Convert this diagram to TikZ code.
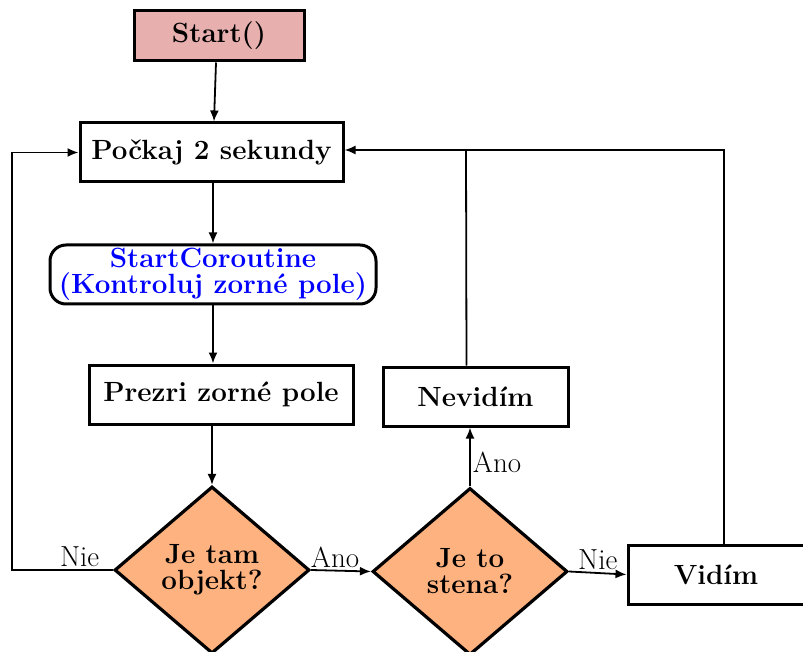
\documentclass[tikz,border=0pt]{standalone}
\usepackage{fontspec}
\usetikzlibrary{shapes.geometric,arrows.meta,positioning,calc}
\definecolor{startpink}{RGB}{232,175,175}
\definecolor{decorange}{RGB}{253,178,127}
\definecolor{coblue}{RGB}{0,0,255}
\begin{document}
\begin{tikzpicture}[x=1pt,y=-1pt,
  boxnode/.style={draw=black,line width=3pt,rectangle,inner sep=0pt,
    font=\fontsize{27.8}{26}\selectfont\bfseries,align=center},
  decnode/.style={draw=black,line width=3.2pt,diamond,fill=decorange,inner sep=0pt,
    minimum width=195pt,minimum height=167pt,
    font=\fontsize{27.8}{26}\selectfont\bfseries,align=center},
  conn/.style={line width=1.8pt,-{Latex[length=11pt,width=9pt]}},
  plain/.style={line width=1.8pt},
  elabel/.style={font=\fontsize{29}{29}\selectfont,inner sep=2pt}
]
\useasboundingbox (0,0) rectangle (803,652);

\node[boxnode,fill=startpink,minimum width=170pt,minimum height=50pt] (start) at (219,36) {Start()};
\node[boxnode,minimum width=263pt,minimum height=59pt] (pockaj) at (211.5,152.5) {Počkaj 2 sekundy};
\node[boxnode,rounded corners=16pt,minimum width=326pt,minimum height=59pt,text=coblue] (corout) at (213,274.5) {StartCoroutine\\(Kontroluj zorné pole)};
\node[boxnode,minimum width=264pt,minimum height=59pt] (prezri) at (221,394.5) {Prezri zorné pole};
\node[decnode] (objekt) at (212,570) {Je tam\\objekt?};
\node[decnode] (stena) at (470,571.5) {Je to\\stena?};
\node[boxnode,minimum width=185pt,minimum height=59pt] (nevidim) at (475.5,396.5) {Nevidím};
\node[boxnode,minimum width=176pt,minimum height=59pt] (vidim) at (716,574.5) {Vidím};

\coordinate (leftcorner) at (12,570);
\coordinate (junction) at (466,150);

\draw[conn] ([xshift=-3pt]start.south) -- ([xshift=2.5pt]pockaj.north);
\draw[conn] ([xshift=1.5pt]pockaj.south) -- (corout.north);
\draw[conn] (corout.south) -- (corout.south |- prezri.north);
\draw[conn] ([xshift=-9pt]prezri.south) -- (objekt.north);
\draw[conn] (objekt.east) -- node[elabel,above,pos=0.4] {Ano} (stena.west);
\draw[conn] (objekt.west) -- node[elabel,above,pos=0.33] {Nie} (leftcorner) |- (pockaj.west);
\draw[conn] (stena.north) -- node[elabel,right,pos=0.4] {Ano} (nevidim.south -| stena.north);
\draw[conn] (stena.east) -- node[elabel,above,midway] {Nie} (vidim.west);
\draw[plain] ([xshift=-9pt]nevidim.north) -- (junction);
\draw[conn] ([xshift=8pt]vidim.north) |- ([yshift=2.5pt]pockaj.east);
\end{tikzpicture}
\end{document}
